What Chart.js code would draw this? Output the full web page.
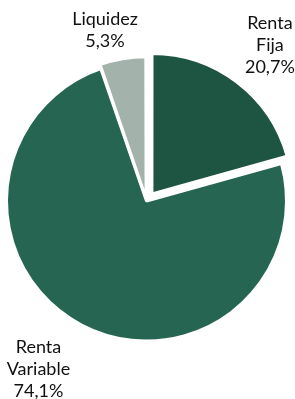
<!DOCTYPE html>
<html>
<head>
<meta charset="utf-8">
<script src="https://cdn.jsdelivr.net/npm/chart.js@4"></script>
<style>
  html, body { margin: 0; padding: 0; background: #ffffff; }
  #wrap { width: 295px; height: 399px; position: relative; }
</style>
</head>
<body>
<div id="wrap"><canvas id="c" width="295" height="399"></canvas></div>
<script>
// ---- data ----
const categories = ['Renta Fija', 'Renta Variable', 'Liquidez'];
const values = [20.7, 74.1, 5.3];
const colors = ['#1E5442', '#276553', '#A3B2AA'];

// ---- label layout (radial distance from centre, angular nudge in degrees) ----
const labelDist = [199, 200, 176];
const labelNudge = [1.1, 5, -4.1];
const lineHeight = 22;
const capHalf = 6;

const labelPlugin = {
  id: 'outsideLabels',
  afterDatasetsDraw(chart) {
    const ctx = chart.ctx;
    const meta = chart.getDatasetMeta(0);
    ctx.save();
    ctx.font = '18px Lato';
    ctx.fillStyle = '#111111';
    ctx.textAlign = 'center';
    ctx.textBaseline = 'alphabetic';
    meta.data.forEach((arc, i) => {
      const p = arc.getProps(['x', 'y', 'startAngle', 'endAngle'], true);
      const mid = (p.startAngle + p.endAngle) / 2 + labelNudge[i] * Math.PI / 180;
      const cx = p.x + Math.cos(mid) * labelDist[i];
      const cy = p.y + Math.sin(mid) * labelDist[i];
      const pct = values[i].toFixed(1).replace('.', ',') + '%';
      const lines = categories[i].split(' ').concat([pct]);
      const n = lines.length;
      lines.forEach((t, k) => {
        const by = cy + (k - (n - 1) / 2) * lineHeight + capHalf;
        ctx.fillText(t, cx, by);
      });
    });
    ctx.restore();
  }
};

new Chart(document.getElementById('c'), {
  type: 'pie',
  data: {
    labels: categories,
    datasets: [{
      data: values,
      backgroundColor: colors,
      borderColor: '#ffffff',
      borderWidth: 3,
      offset: [36, 0, 10],
      radius: 140
    }]
  },
  options: {
    responsive: false,
    animation: false,
    layout: { padding: { left: 0, right: 2, top: 3, bottom: 0 } },
    plugins: {
      legend: { display: false },
      tooltip: { enabled: false }
    }
  },
  plugins: [labelPlugin]
});
</script>
</body>
</html>
